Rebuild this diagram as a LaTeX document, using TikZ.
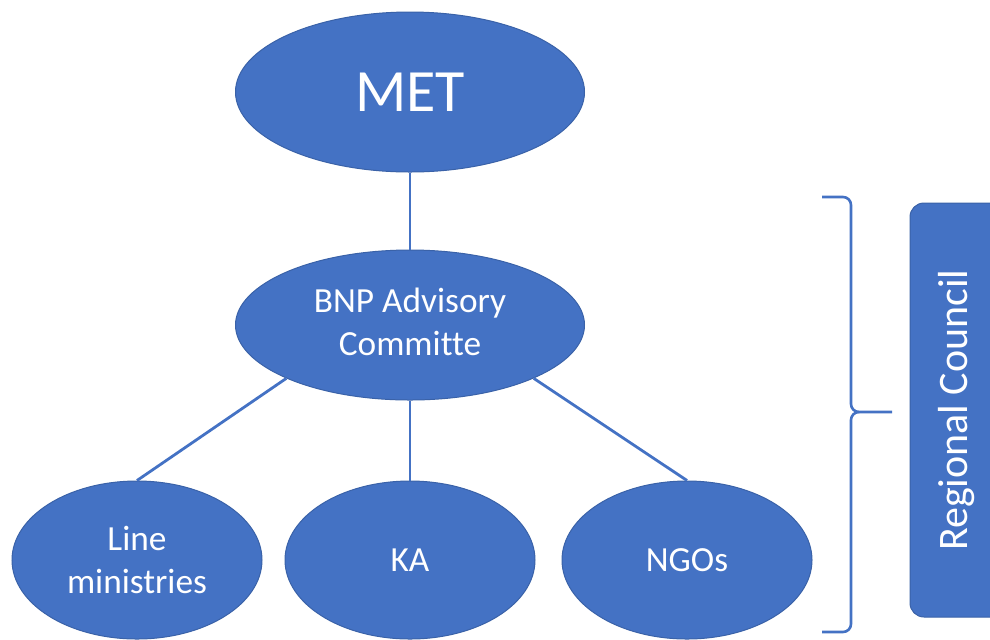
\documentclass[tikz,border=0pt]{standalone}
\usepackage{fontspec}
\setmainfont{Carlito}[Ligatures=CommonOff]
\usetikzlibrary{shapes.geometric}
\definecolor{office}{HTML}{4472C4}
\definecolor{officeedge}{HTML}{3A62A8}
\tikzset{
  bubble/.style={ellipse, fill=office, draw=officeedge, line width=0.5pt, text=white,
    align=center, inner sep=0pt, font=\fontsize{17.65}{21.5}\selectfont},
  link/.style={draw=office, line width=1.4pt},
  braceline/.style={draw=office, line width=1.3pt},
  sidebox/.style={fill=office, draw=officeedge, line width=0.5pt, rounded corners=7pt},
}

\begin{document}
\begin{tikzpicture}[x=0.5pt,y=-0.5pt]
  \useasboundingbox (0,0) rectangle (990,639);
  \clip (0,0) rectangle (990,639);
  % tree
  \node[bubble, minimum width=174.5pt, minimum height=80pt,
    font=\fontsize{30}{36}\selectfont] (met) at (410,92) {MET};
  \node[bubble, minimum width=174.5pt, minimum height=75pt] (bnp) at (410,325)
    {BNP Advisory\\Committe\vphantom{y}};
  \node[bubble, minimum width=125pt, minimum height=79pt] (line) at (137,560)
    {Line\\ministries};
  \node[bubble, minimum width=125pt, minimum height=79pt] (ka) at (410,560) {KA};
  \node[bubble, minimum width=125pt, minimum height=79pt] (ngo) at (687,560) {NGOs};
  \draw[link] (met.south) -- (bnp.north);
  \draw[link] (bnp.south west) -- (line.north);
  \draw[link] (bnp.south) -- (ka.north);
  \draw[link] (bnp.south east) -- (ngo.north);
  % brace
  \coordinate (tip) at (892,412);
  \draw[braceline] (822,197) -- (843,197) to[out=0,in=90] (851,205) -- (851,404)
    to[out=-90,in=180] (859,412) -- (tip);
  \draw[braceline] (859,412) to[out=180,in=90] (851,420) -- (851,624)
    to[out=-90,in=0] (843,632) -- (822,632);
  % side box
  \filldraw[sidebox] (910,203) rectangle (1004,617);
  \node[text=white, rotate=90, font=\fontsize{21}{25}\selectfont] (council) at (957,410)
    {Regional Council};
\end{tikzpicture}
\end{document}
